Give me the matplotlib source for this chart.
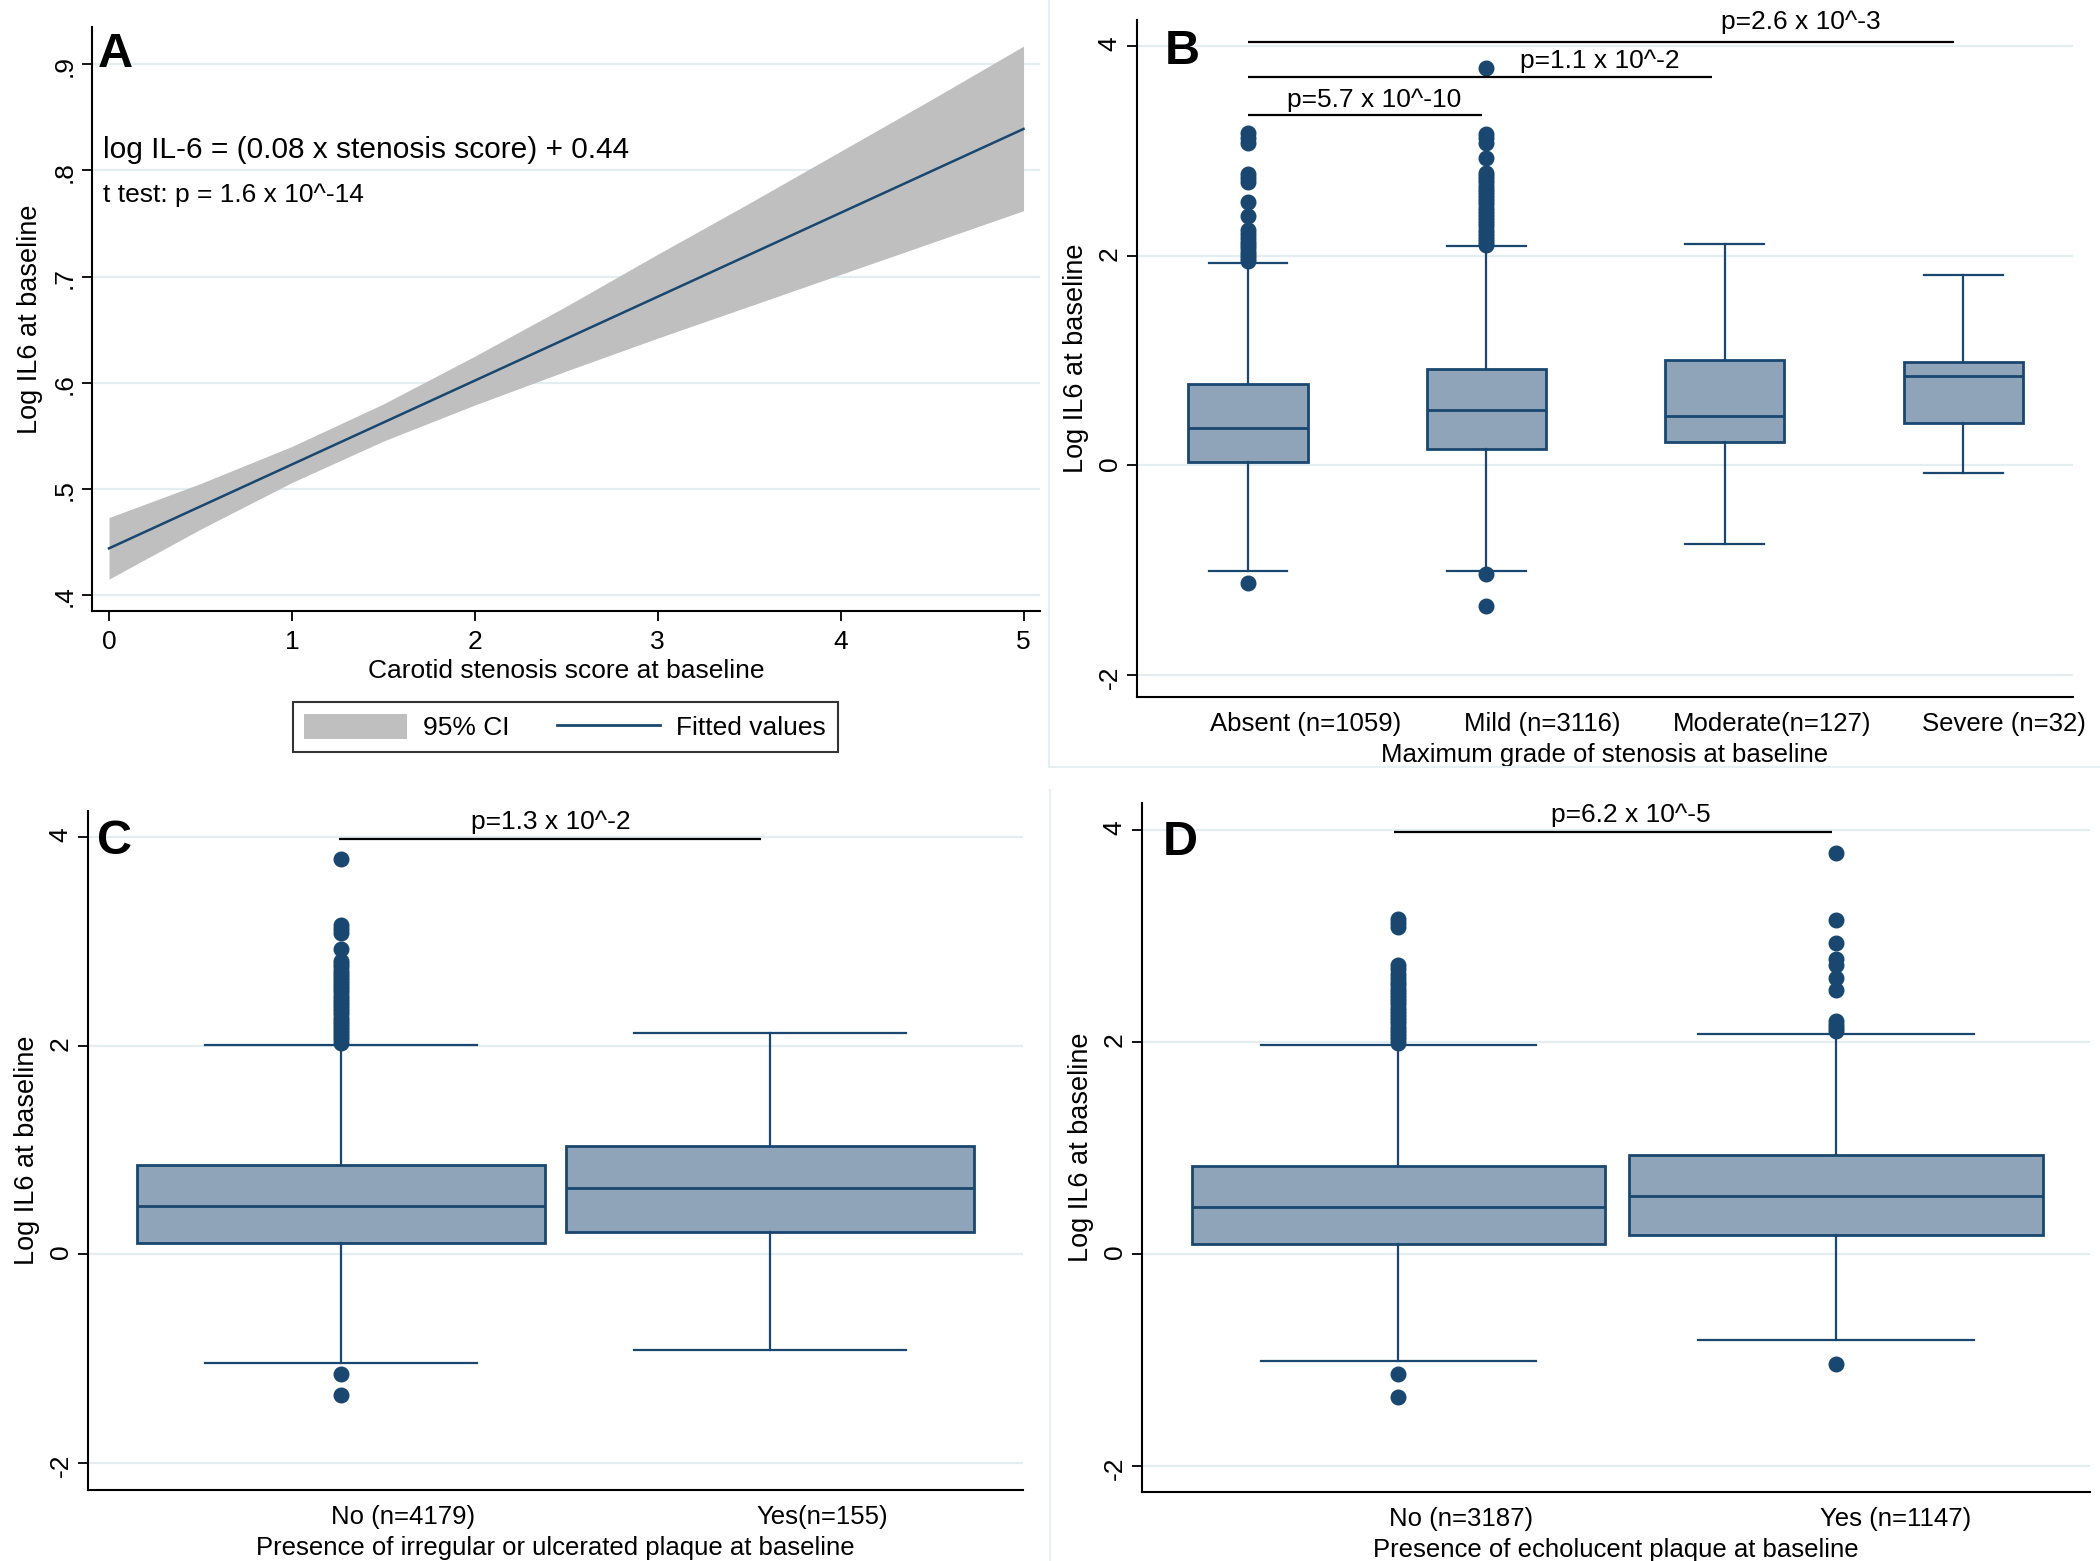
import numpy as np
import matplotlib

matplotlib.use('Agg')
import matplotlib.pyplot as plt
from matplotlib.patches import Patch
from matplotlib.lines import Line2D

plt.rcParams['font.family'] = ['Liberation Sans', 'DejaVu Sans']
plt.rcParams['font.size'] = 19
plt.rcParams['axes.linewidth'] = 1.5

NAVY = '#1a476f'
BOXFILL = '#90a4b9'
GRID = '#e4edf0'
CI_GREY = '#bfbfbf'
FAINT = '#e8eff2'

# ---- panel A: fitted line with 95% CI ----
score = [0, 0.5, 1, 1.5, 2, 2.5, 3, 3.5, 4, 4.5, 5]
fitted = [0.444, 0.4835, 0.523, 0.5625, 0.602, 0.6415, 0.681, 0.7205, 0.760, 0.7995, 0.839]
ci_low = [0.415, 0.462, 0.506, 0.545, 0.579, 0.611, 0.642, 0.672, 0.702, 0.732, 0.762]
ci_high = [0.473, 0.505, 0.540, 0.580, 0.625, 0.672, 0.721, 0.769, 0.818, 0.867, 0.917]

# ---- panel B: maximum grade of stenosis ----
b_labels = ['Absent (n=1059)', 'Mild (n=3116)', 'Moderate(n=127)', 'Severe (n=32)']
b_med = [0.36, 0.53, 0.47, 0.85]
b_q1 = [0.035, 0.155, 0.22, 0.40]
b_q3 = [0.775, 0.92, 1.01, 0.985]
b_whislo = [-1.01, -1.01, -0.75, -0.075]
b_whishi = [1.93, 2.09, 2.11, 1.82]
b_fliers = [
    [1.95, 1.98, 2.01, 2.04, 2.07, 2.10, 2.13, 2.17, 2.21, 2.25, 2.38, 2.51,
     2.70, 2.74, 2.78, 3.08, 3.12, 3.17, -1.12],
    [2.10, 2.13, 2.16, 2.19, 2.22, 2.25, 2.28, 2.31, 2.34, 2.37, 2.40, 2.43,
     2.46, 2.49, 2.52, 2.55, 2.58, 2.61, 2.64, 2.67, 2.70, 2.73, 2.76, 2.79,
     2.93, 3.08, 3.12, 3.16, 3.79, -1.04, -1.34],
    [],
    [],
]
b_pvals = ['p=5.7 x 10^-10', 'p=1.1 x 10^-2', 'p=2.6 x 10^-3']
b_pairs = [(1.0, 1.98), (1.0, 2.945), (1.0, 3.96)]
b_line_y = [3.34, 3.71, 4.04]
b_text_x = [1.53, 2.476, 3.32]
b_text_y = [3.37, 3.74, 4.12]

# ---- panel C: irregular / ulcerated plaque ----
c_labels = ['No (n=4179)', 'Yes(n=155)']
c_med = [0.46, 0.635]
c_q1 = [0.11, 0.215]
c_q3 = [0.855, 1.035]
c_whislo = [-1.04, -0.915]
c_whishi = [2.01, 2.12]
c_fliers = [
    [2.03, 2.06, 2.09, 2.12, 2.15, 2.18, 2.21, 2.24, 2.27, 2.30, 2.33, 2.36,
     2.39, 2.42, 2.45, 2.48, 2.51, 2.54, 2.57, 2.60, 2.63, 2.66, 2.69, 2.72,
     2.75, 2.78, 2.81, 2.93, 3.08, 3.12, 3.16, 3.79, -1.15, -1.35],
    [],
]
c_pvals = ['p=1.3 x 10^-2']
c_pairs = [(0.995, 1.98)]
c_line_y = [3.98]
c_text_x = [1.49]
c_text_y = [4.03]

# ---- panel D: echolucent plaque ----
d_labels = ['No (n=3187)', 'Yes (n=1147)']
d_med = [0.44, 0.54]
d_q1 = [0.09, 0.175]
d_q3 = [0.83, 0.93]
d_whislo = [-1.01, -0.82]
d_whishi = [1.97, 2.07]
d_fliers = [
    [1.99, 2.02, 2.05, 2.08, 2.11, 2.14, 2.17, 2.20, 2.23, 2.26, 2.29, 2.32,
     2.35, 2.38, 2.41, 2.44, 2.47, 2.50, 2.53, 2.56, 2.60, 2.64, 2.68, 2.72,
     3.08, 3.12, 3.16, -1.14, -1.35],
    [2.10, 2.13, 2.16, 2.19, 2.49, 2.60, 2.72, 2.78, 2.93, 3.15, 3.78, -1.04],
]
d_pvals = ['p=6.2 x 10^-5']
d_pairs = [(0.99, 1.99)]
d_line_y = [3.98]
d_text_x = [1.53]
d_text_y = [4.02]

W, H = 2100, 1561


def rect(left, top, right, bottom):
    return [left / W, 1 - bottom / H, (right - left) / W, (bottom - top) / H]


def style_axes(ax):
    ax.spines['top'].set_visible(False)
    ax.spines['right'].set_visible(False)
    ax.yaxis.grid(True, color=GRID, lw=1.6)
    ax.set_axisbelow(True)
    ax.tick_params(axis='y', length=7, width=1.3, pad=4, labelrotation=90, labelsize=19)
    ax.yaxis.label.set_size(19.5)


def box_panel(ax, labels, med, q1, q3, lo, hi, fliers, width, capw, shifts,
              xlim, ylim, xlabel, pvals, pairs, line_y, text_x, text_y, letter, letter_pos):
    pos = np.arange(1, len(labels) + 1)
    stats = []
    for i in range(len(labels)):
        stats.append(dict(med=med[i], q1=q1[i], q3=q3[i], whislo=lo[i], whishi=hi[i],
                          fliers=fliers[i]))
    ax.bxp(stats, positions=pos, widths=width, capwidths=capw, patch_artist=True,
           boxprops=dict(facecolor=BOXFILL, edgecolor=NAVY, linewidth=2.0),
           medianprops=dict(color=NAVY, linewidth=2.0),
           whiskerprops=dict(color=NAVY, linewidth=1.6),
           capprops=dict(color=NAVY, linewidth=1.6),
           flierprops=dict(marker='o', markerfacecolor=NAVY, markeredgecolor=NAVY,
                           markersize=10.5, linestyle='none'))
    style_axes(ax)
    ax.set_xlim(*xlim)
    ax.set_ylim(*ylim)
    ax.set_yticks([-2, 0, 2, 4])
    ax.set_yticklabels(['-2', '0', '2', '4'])
    ax.set_xticks(pos + np.array(shifts))
    ax.set_xticklabels(labels)
    ax.tick_params(axis='x', length=0, pad=10.5, labelsize=18.5)
    ax.set_xlabel(xlabel, fontsize=18.5, labelpad=5.5)
    ax.set_ylabel('Log IL6 at baseline')
    ax.yaxis.set_label_coords(-0.051, 0.5)
    for p, (x0, x1), ly, tx, ty in zip(pvals, pairs, line_y, text_x, text_y):
        ax.plot([x0, x1], [ly, ly], color='black', lw=1.6, solid_capstyle='butt')
        ax.text(tx, ty, p, ha='center', va='bottom', fontsize=19)
    ax.text(letter_pos[0], letter_pos[1], letter, transform=ax.transAxes,
            fontsize=35, fontweight='bold', va='baseline', ha='left')


fig = plt.figure(figsize=(21, 15.61), dpi=100)

# faint graph-region borders of the combined graph
for xs, ys in [([1049, 1049], [0, 767]), ([1049, 2100], [767, 767]), ([1050, 1050], [790, 1561])]:
    fig.add_artist(Line2D([x / W for x in xs], [1 - y / H for y in ys],
                          transform=fig.transFigure, color=FAINT, lw=1.5))

# A
axA = fig.add_axes(rect(92, 27, 1040, 611))
axA.fill_between(score, ci_low, ci_high, color=CI_GREY, lw=0)
axA.plot(score, fitted, color=NAVY, lw=1.8)
style_axes(axA)
axA.set_xlim(-0.093, 5.09)
axA.set_ylim(0.385, 0.935)
axA.set_yticks([0.4, 0.5, 0.6, 0.7, 0.8, 0.9])
axA.set_yticklabels(['.4', '.5', '.6', '.7', '.8', '.9'])
axA.set_xticks([0, 1, 2, 3, 4, 5])
axA.tick_params(axis='x', length=7, width=1.3, pad=7, labelsize=19)
axA.set_xlabel('Carotid stenosis score at baseline', fontsize=19, labelpad=3)
axA.set_ylabel('Log IL6 at baseline')
axA.yaxis.set_label_coords(-0.052, 0.5)
axA.text(-0.033, 0.8115, 'log IL-6 = (0.08 x stenosis score) + 0.44', fontsize=21.5, va='baseline')
axA.text(-0.033, 0.770, 't test: p = 1.6 x 10^-14', fontsize=19, va='baseline')
axA.text(0.0063, 0.9315, 'A', transform=axA.transAxes, fontsize=35, fontweight='bold', va='baseline')

handles = [Patch(facecolor=CI_GREY, edgecolor='none', label='95% CI'),
           Line2D([], [], color=NAVY, lw=2, label='Fitted values')]
leg = fig.legend(handles=handles, loc='center', bbox_to_anchor=(565 / W, 1 - 727 / H), ncol=2,
                 frameon=True, fancybox=False, edgecolor='black', fontsize=19,
                 handlelength=3.9, handleheight=1.1, handletextpad=0.6, columnspacing=1.8,
                 borderpad=0.45, borderaxespad=0)
leg.get_frame().set_linewidth(1.5)

# B
axB = fig.add_axes(rect(1137, 20, 2073, 697))
box_panel(axB, b_labels, b_med, b_q1, b_q3, b_whislo, b_whishi, b_fliers, 0.5, 0.33,
          [0.243, 0.235, 0.2, 0.17], (0.535, 4.46), (-2.21, 4.25),
          'Maximum grade of stenosis at baseline',
          b_pvals, b_pairs, b_line_y, b_text_x, b_text_y, 'B', (0.030, 0.935))

# C
axC = fig.add_axes(rect(88, 811, 1023, 1490))
box_panel(axC, c_labels, c_med, c_q1, c_q3, c_whislo, c_whishi, c_fliers, 0.95, 0.635,
          [0.144, 0.123], (0.41, 2.59), (-2.26, 4.25),
          'Presence of irregular or ulcerated plaque at baseline',
          c_pvals, c_pairs, c_line_y, c_text_x, c_text_y, 'C', (0.0096, 0.937))

# D
axD = fig.add_axes(rect(1142, 803, 2090, 1492))
box_panel(axD, d_labels, d_med, d_q1, d_q3, d_whislo, d_whishi, d_fliers, 0.945, 0.63,
          [0.142, 0.137], (0.414, 2.58), (-2.25, 4.25),
          'Presence of echolucent plaque at baseline',
          d_pvals, d_pairs, d_line_y, d_text_x, d_text_y, 'D', (0.022, 0.9245))

fig.savefig('out.png', dpi=100)
